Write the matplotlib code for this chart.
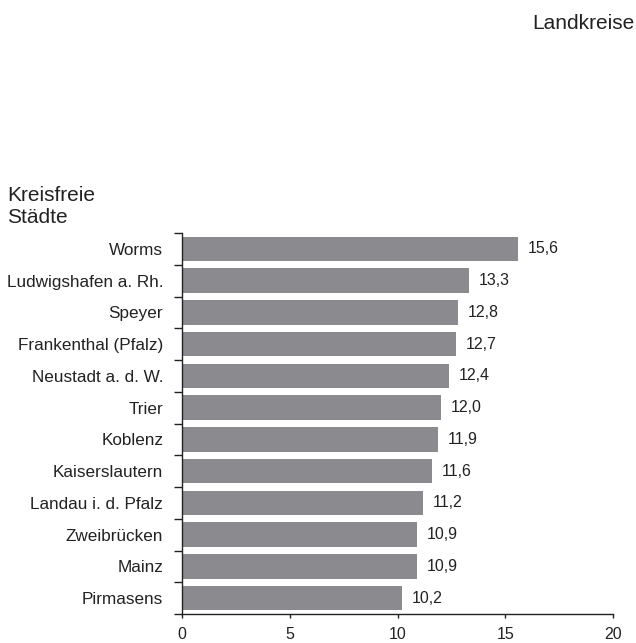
import matplotlib.pyplot as plt

plt.rcParams['font.family'] = ['Liberation Sans', 'DejaVu Sans']

staedte = ['Worms', 'Ludwigshafen a. Rh.', 'Speyer', 'Frankenthal (Pfalz)',
           'Neustadt a. d. W.', 'Trier', 'Koblenz', 'Kaiserslautern',
           'Landau i. d. Pfalz', 'Zweibrücken', 'Mainz', 'Pirmasens']
werte = [15.6, 13.3, 12.8, 12.7, 12.4, 12.0, 11.9, 11.6, 11.2, 10.9, 10.9, 10.2]
xticks = [0, 5, 10, 15, 20]

bar_col = '#8b8b8f'
txt_col = '#222222'

fig = plt.figure(figsize=(6.36, 6.43), dpi=100)
ax = fig.add_axes([0.286, 0.0451, 0.678, 0.5925])

n = len(staedte)
ypos = list(range(n))[::-1]
ax.barh(ypos, werte, height=0.77, color=bar_col, zorder=2)

for y, v in zip(ypos, werte):
    ax.text(v + 0.45, y, f'{v:.1f}'.replace('.', ','), va='center', ha='left',
            fontsize=11.5, color=txt_col)

ax.set_xlim(0, 20)
ax.set_ylim(-0.5, n - 0.5)
ax.set_xticks(xticks)
ax.set_xticklabels([str(t) for t in xticks], fontsize=11.5, color=txt_col)
ax.tick_params(axis='x', direction='out', length=3, width=1, pad=6, color='#222222')

# category labels centred, ticks on boundaries
ax.set_yticks([i - 0.5 for i in range(n + 1)])
ax.set_yticklabels([])
ax.set_yticks(ypos, minor=True)
ax.set_yticklabels(staedte, minor=True, fontsize=12.3, color=txt_col)
ax.tick_params(axis='y', which='major', direction='out', length=5.5, width=1, color='#222222')
ax.tick_params(axis='y', which='minor', length=0, pad=13.5)

for s in ['top', 'right']:
    ax.spines[s].set_visible(False)
for s in ['left', 'bottom']:
    ax.spines[s].set_color('#222222')
    ax.spines[s].set_linewidth(1)

fig.text(0.011, 1 - 223 / 643, 'Kreisfreie\nStädte', fontsize=15, color=txt_col,
         ha='left', va='baseline', linespacing=1.22)
fig.text(0.997, 0.963, 'Landkreise', fontsize=15, color=txt_col,
         ha='right', va='center')

fig.savefig('out.png', dpi=100)
